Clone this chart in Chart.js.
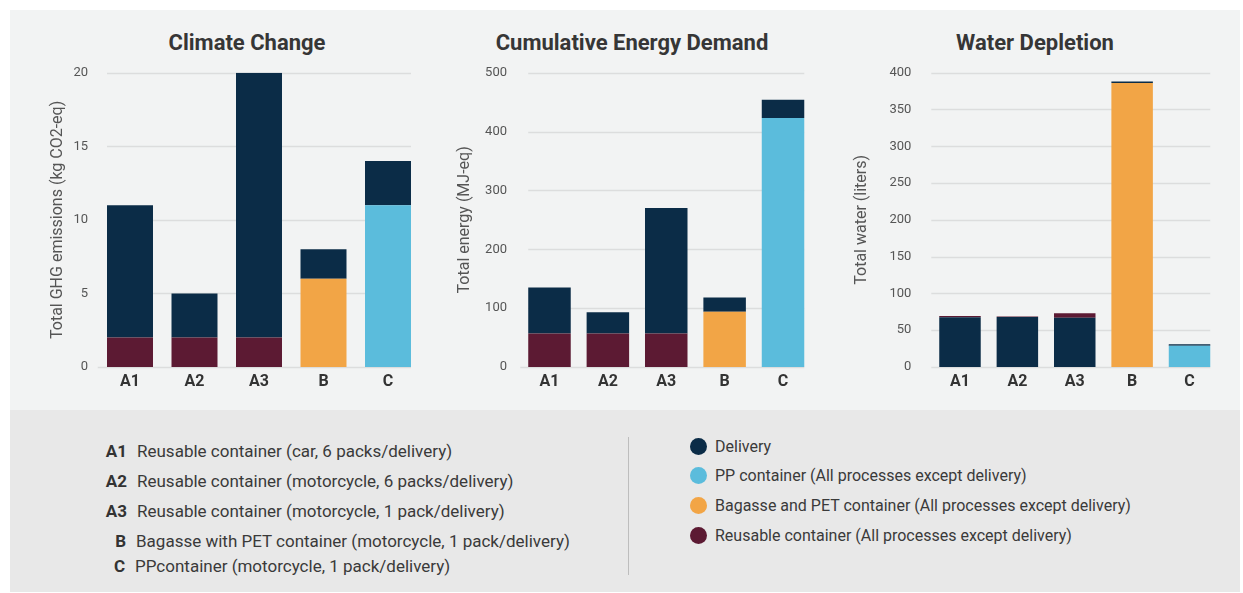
<!DOCTYPE html>
<html>
<head>
<meta charset="utf-8">
<script src="https://cdn.jsdelivr.net/npm/chart.js@4"></script>
<style>
  body { margin: 0; background: #fff; font-family: Roboto, sans-serif; }
  #page { position: relative; width: 1243px; height: 593px; }
  .panelTop { position: absolute; left: 10px; top: 10px; width: 1230px; height: 400px; background: #f2f3f3; }
  .panelBottom { position: absolute; left: 10px; top: 410px; width: 1230px; height: 182px; background: #e8e8e8; }
  .box { position: absolute; top: 10px; height: 400px; }
  .title { position: absolute; top: 30px; font-size: 22px; font-weight: 700; color: #363636; transform: translateX(-50%); white-space: nowrap; line-height: 26px; }
  .key { position: absolute; font-size: 17px; color: #3a3a3a; white-space: nowrap; line-height: 20px; }
  .key b { display: inline-block; width: 30px; text-align: right; margin-right: 10px; color: #333; }
  .swatch { position: absolute; font-size: 16px; color: #3a3a3a; white-space: nowrap; line-height: 20px; }
  .swatch i { position: absolute; left: -25px; top: 1px; width: 17px; height: 17px; border-radius: 50%; }
  .divider { position: absolute; left: 628px; top: 437px; width: 1px; height: 138px; background: #bdbdbd; }
</style>
</head>
<body>
<div id="page">
  <div class="panelTop"></div>
  <div class="panelBottom"></div>

  <div class="title" style="left:247px">Climate Change</div>
  <div class="title" style="left:632px">Cumulative Energy Demand</div>
  <div class="title" style="left:1035px">Water Depletion</div>

  <div class="box" style="left:10px;width:420px"><canvas id="climateChart"></canvas></div>
  <div class="box" style="left:430px;width:400px"><canvas id="energyChart"></canvas></div>
  <div class="box" style="left:830px;width:410px"><canvas id="waterChart"></canvas></div>

  <div class="key" style="left:97px;top:441px"><b>A1</b>Reusable container (car, 6 packs/delivery)</div>
  <div class="key" style="left:97px;top:471px"><b>A2</b>Reusable container (motorcycle, 6 packs/delivery)</div>
  <div class="key" style="left:97px;top:501px"><b>A3</b>Reusable container (motorcycle, 1 pack/delivery)</div>
  <div class="key" style="left:96px;top:531px"><b>B</b>Bagasse with PET container (motorcycle, 1 pack/delivery)</div>
  <div class="key" style="left:95px;top:556px"><b>C</b>PPcontainer (motorcycle, 1 pack/delivery)</div>

  <div class="divider"></div>

  <div class="swatch" style="left:715px;top:437px"><i style="background:#0b2c47"></i>Delivery</div>
  <div class="swatch" style="left:715px;top:466px"><i style="background:#5bbcdc"></i>PP container (All processes except delivery)</div>
  <div class="swatch" style="left:715px;top:496px"><i style="background:#f2a546"></i>Bagasse and PET container (All processes except delivery)</div>
  <div class="swatch" style="left:715px;top:526px"><i style="background:#5c1a33"></i>Reusable container (All processes except delivery)</div>
</div>

<script>
// categories
const categories = ["A1", "A2", "A3", "B", "C"];

// Climate change (kg CO2-eq)
const climateReusable = [2, 2, 2, 0, 0];
const climatePP = [0, 0, 0, 0, 11];
const climateBagasse = [0, 0, 0, 6, 0];
const climateDelivery = [9, 3, 18, 2, 3];
const climateTicks = [0, 5, 10, 15, 20];

// Cumulative energy demand (MJ-eq)
const energyReusable = [57, 57, 57, 0, 0];
const energyPP = [0, 0, 0, 0, 423];
const energyBagasse = [0, 0, 0, 94, 0];
const energyDelivery = [78, 36, 213, 24, 31];
const energyTicks = [0, 100, 200, 300, 400, 500];

// Water depletion (liters)
const waterReusable = [1.8, 0.5, 6, 0, 0];
const waterPP = [0, 0, 0, 0, 29];
const waterBagasse = [0, 0, 0, 386, 0];
const waterDelivery = [67.5, 68, 67, 2, 2];
const waterTicks = [0, 50, 100, 150, 200, 250, 300, 350, 400];

const colors = {
  delivery: "#0b2c47",
  pp: "#5bbcdc",
  bagasse: "#f2a546",
  reusable: "#5c1a33",
};

Chart.defaults.font.family = "Roboto";
Chart.defaults.animation = false;

// horizontal grid lines that run from the first bar to the last bar
const barGrid = {
  id: "barGrid",
  beforeDatasetsDraw(chart, args, opts) {
    const { ctx, chartArea, scales } = chart;
    const bars = chart.getDatasetMeta(0).data;
    const first = bars[0];
    const last = bars[bars.length - 1];
    const gridLeft = opts.fromArea ? chartArea.left : first.x - first.width / 2;
    const gridRight = last.x + last.width / 2;
    ctx.save();
    ctx.strokeStyle = "#dcdddd";
    ctx.lineWidth = 1.5;
    scales.y.ticks.forEach((t) => {
      const y = Math.round(scales.y.getPixelForValue(t.value)) + 0.5;
      ctx.beginPath();
      ctx.moveTo(t.value === 0 ? chartArea.left : gridLeft, y);
      ctx.lineTo(gridRight, y);
      ctx.stroke();
    });
    ctx.restore();
  },
};

function makeChart(id, setup) {
  const datasets = setup.series.map((s) => ({
    label: s.label,
    data: s.data,
    backgroundColor: s.color,
    borderWidth: 0,
    categoryPercentage: 1,
    barPercentage: setup.barPct,
  }));

  return new Chart(document.getElementById(id), {
    type: "bar",
    data: { labels: categories, datasets: datasets },
    plugins: [barGrid],
    options: {
      responsive: true,
      maintainAspectRatio: false,
      layout: { padding: { left: setup.padLeft, right: setup.padRight, top: 62.7, bottom: 0 } },
      plugins: {
        legend: { display: false },
        tooltip: { enabled: false },
        barGrid: { fromArea: setup.fromArea },
      },
      scales: {
        x: {
          stacked: true,
          grid: { display: false, drawTicks: false },
          border: { display: false },
          ticks: { color: "#333", padding: 5, font: { size: 16, weight: "bold" } },
          afterFit: (scale) => { scale.height = 43; },
        },
        y: {
          stacked: true,
          min: 0,
          max: setup.ticks[setup.ticks.length - 1],
          afterBuildTicks: (scale) => {
            scale.ticks = setup.ticks.map((v) => ({ value: v }));
          },
          grid: { display: false, drawTicks: false },
          border: { display: false },
          ticks: { color: "#555", padding: setup.tickPad, font: { size: 13 } },
          title: {
            display: true,
            text: setup.yTitle,
            color: "#555",
            font: { size: 16 },
            padding: { top: 0, bottom: 0 },
          },
          afterFit: (scale) => { scale.width = setup.axisWidth; },
        },
      },
    },
  });
}

makeChart("climateChart", {
  yTitle: "Total GHG emissions (kg CO2-eq)",
  ticks: climateTicks,
  series: [
    { label: "Reusable container (All processes except delivery)", data: climateReusable, color: colors.reusable },
    { label: "PP container (All processes except delivery)", data: climatePP, color: colors.pp },
    { label: "Bagasse and PET container (All processes except delivery)", data: climateBagasse, color: colors.bagasse },
    { label: "Delivery", data: climateDelivery, color: colors.delivery },
  ],
  padLeft: 38.4, padRight: 9.75, axisWidth: 49.35, tickPad: 9.75, barPct: 0.713, fromArea: false,
});

makeChart("energyChart", {
  yTitle: "Total energy (MJ-eq)",
  ticks: energyTicks,
  series: [
    { label: "Reusable container (All processes except delivery)", data: energyReusable, color: colors.reusable },
    { label: "PP container (All processes except delivery)", data: energyPP, color: colors.pp },
    { label: "Bagasse and PET container (All processes except delivery)", data: energyBagasse, color: colors.bagasse },
    { label: "Delivery", data: energyDelivery, color: colors.delivery },
  ],
  padLeft: 25.4, padRight: 17.8, axisWidth: 64.9, tickPad: 13.3, barPct: 0.728, fromArea: false,
});

// water chart stacks the containers on top of delivery
makeChart("waterChart", {
  yTitle: "Total water (liters)",
  ticks: waterTicks,
  series: [
    { label: "PP container (All processes except delivery)", data: waterPP, color: colors.pp },
    { label: "Bagasse and PET container (All processes except delivery)", data: waterBagasse, color: colors.bagasse },
    { label: "Delivery", data: waterDelivery, color: colors.delivery },
    { label: "Reusable container (All processes except delivery)", data: waterReusable, color: colors.reusable },
  ],
  padLeft: 22.4, padRight: 21.8, axisWidth: 78.9, tickPad: 20, barPct: 0.723, fromArea: true,
});
</script>
</body>
</html>
